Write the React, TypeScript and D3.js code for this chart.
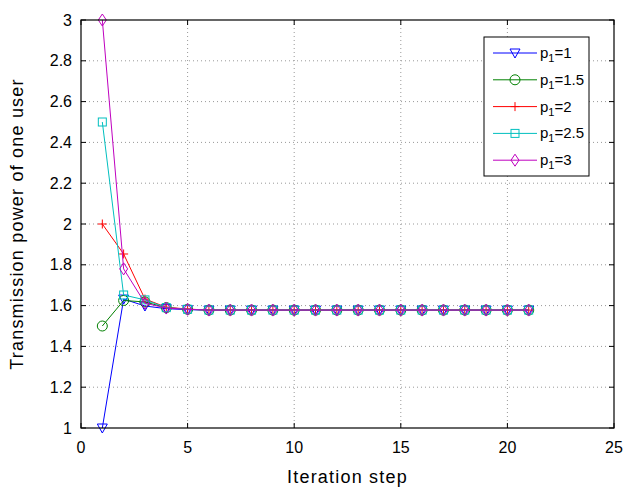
import React from "react";
import * as d3 from "d3";

const steps = d3.range(1, 22);
const tail = Array(16).fill(1.578);
const series1 = [1.0, 1.632, 1.598, 1.585, 1.58, ...tail];
const series15 = [1.5, 1.625, 1.618, 1.59, 1.582, ...tail];
const series2 = [2.0, 1.853, 1.632, 1.592, 1.583, ...tail];
const series25 = [2.5, 1.652, 1.628, 1.59, 1.582, ...tail];
const series3 = [3.0, 1.78, 1.612, 1.588, 1.582, ...tail];
const labels = ["1", "1.5", "2", "2.5", "3"];
const colors = ["#0000ff", "#008000", "#ff0000", "#00bfbf", "#bf00bf"];
const markers = ["tri", "circle", "plus", "square", "diamond"];
const xTicks = [0, 5, 10, 15, 20, 25];
const yTicks = d3.range(0, 11).map((i) => +(1 + i * 0.2).toFixed(1));

const W = 625, H = 490;
const L = 81, R = 614, T = 20, B = 428;
const x = d3.scaleLinear().domain([0, 25]).range([L, R]);
const y = d3.scaleLinear().domain([1, 3]).range([B, T]);

function Marker({ kind, cx, cy, color }: { kind: string; cx: number; cy: number; color: string }) {
  const s = 5;
  if (kind === "tri")
    return <path d={`M${cx - s},${cy - s * 0.8}L${cx + s},${cy - s * 0.8}L${cx},${cy + s}Z`} fill="none" stroke={color} strokeWidth={1} />;
  if (kind === "circle") return <circle cx={cx} cy={cy} r={s} fill="none" stroke={color} strokeWidth={1} />;
  if (kind === "plus")
    return <path d={`M${cx - 4.5},${cy}H${cx + 4.5}M${cx},${cy - 4.5}V${cy + 4.5}`} fill="none" stroke={color} strokeWidth={1} />;
  if (kind === "square")
    return <rect x={cx - 4} y={cy - 4} width={8} height={8} fill="none" stroke={color} strokeWidth={1} />;
  return <path d={`M${cx},${cy - 6}L${cx + 4},${cy}L${cx},${cy + 6}L${cx - 4},${cy}Z`} fill="none" stroke={color} strokeWidth={1} />;
}

export default function App() {
  const all = [series1, series15, series2, series25, series3];
  const line = d3.line<number>().x((_, i) => x(steps[i])).y((d) => y(d));
  const font = "Liberation Sans, Arial, sans-serif";
  return (
    <svg width={W} height={H} style={{ position: "absolute", left: 0, top: 0 }} fontFamily={font}>
      <rect x={0} y={0} width={W} height={H} fill="#fff" />
      <rect x={L} y={T} width={R - L} height={B - T} fill="#fff" />
      {xTicks.slice(1, -1).map((t) => (
        <line key={"gx" + t} x1={x(t)} x2={x(t)} y1={T} y2={B} stroke="#999" strokeDasharray="1,3" />
      ))}
      {yTicks.slice(1, -1).map((t) => (
        <line key={"gy" + t} x1={L} x2={R} y1={y(t)} y2={y(t)} stroke="#999" strokeDasharray="1,3" />
      ))}
      {xTicks.map((t) => (
        <g key={"tx" + t}>
          <line x1={x(t)} x2={x(t)} y1={B} y2={B - 5} stroke="#000" />
          <line x1={x(t)} x2={x(t)} y1={T} y2={T + 5} stroke="#000" />
          <text x={x(t)} y={B + 25} textAnchor="middle" fontSize={16}>{t}</text>
        </g>
      ))}
      {yTicks.map((t) => (
        <g key={"ty" + t}>
          <line x1={L} x2={L + 5} y1={y(t)} y2={y(t)} stroke="#000" />
          <line x1={R} x2={R - 5} y1={y(t)} y2={y(t)} stroke="#000" />
          <text x={L - 9} y={y(t) + 5.5} textAnchor="end" fontSize={16}>{t}</text>
        </g>
      ))}
      {all.map((s, k) => (
        <g key={"s" + k}>
          <path d={line(s) || ""} fill="none" stroke={colors[k]} strokeWidth={1} />
          {s.map((v, i) => (
            <Marker key={i} kind={markers[k]} cx={x(steps[i])} cy={y(v)} color={colors[k]} />
          ))}
        </g>
      ))}
      <rect x={L} y={T} width={R - L} height={B - T} fill="none" stroke="#000" strokeWidth={1.2} />
      <text x={(L + R) / 2} y={483} textAnchor="middle" fontSize={18} letterSpacing={1.2}>Iteration step</text>
      <text transform={`translate(23,${(T + B) / 2}) rotate(-90)`} textAnchor="middle" fontSize={18} letterSpacing={1.2}>Transmission power of one user</text>
      <g>
        <rect x={484} y={37} width={105} height={139} fill="#fff" stroke="#000" strokeWidth={1} />
        {labels.map((lb, k) => {
          const ly = 53 + k * 26.8;
          return (
            <g key={"lg" + k}>
              <line x1={493} x2={537} y1={ly} y2={ly} stroke={colors[k]} />
              <Marker kind={markers[k]} cx={515} cy={ly} color={colors[k]} />
              <text x={540} y={ly + 5} fontSize={15}>
                p<tspan fontSize={11} dy={4}>1</tspan><tspan dy={-4}>={lb}</tspan>
              </text>
            </g>
          );
        })}
      </g>
    </svg>
  );
}
